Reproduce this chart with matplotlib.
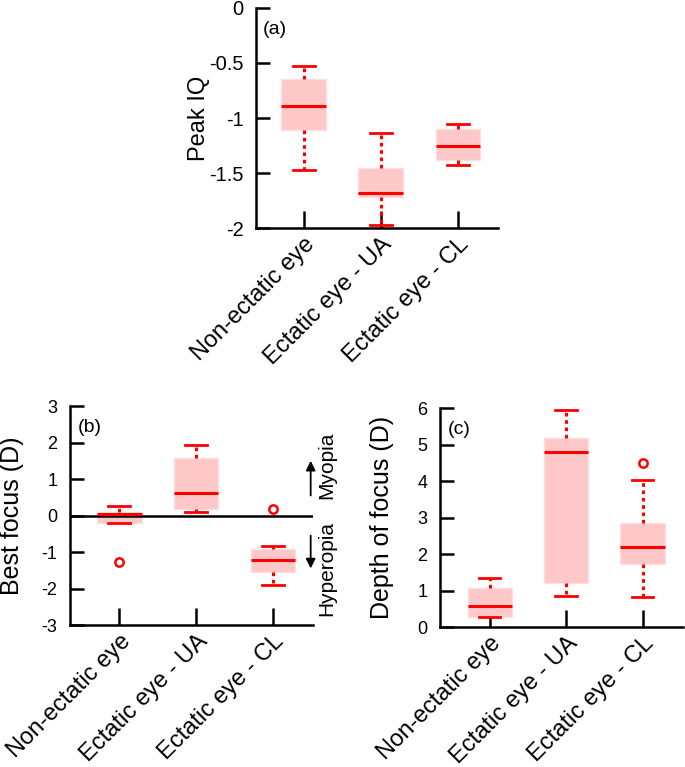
import matplotlib.pyplot as plt

plt.rcParams['font.family'] = ['Liberation Sans', 'DejaVu Sans']
plt.rcParams['axes.unicode_minus'] = False

groups = ['Non-ectatic eye', 'Ectatic eye - UA', 'Ectatic eye - CL']

# (a) peak IQ: lower whisker, Q1, median, Q3, upper whisker, outliers
peak_lo = [-1.47, -1.97, -1.43]
peak_q1 = [-1.11, -1.72, -1.38]
peak_med = [-0.89, -1.68, -1.25]
peak_q3 = [-0.65, -1.45, -1.10]
peak_hi = [-0.53, -1.14, -1.05]
peak_out = [[], [], []]

# (b) best focus (D)
focus_lo = [-0.20, 0.11, -1.89]
focus_q1 = [-0.20, 0.19, -1.56]
focus_med = [0.05, 0.63, -1.22]
focus_q3 = [0.09, 1.59, -0.91]
focus_hi = [0.26, 1.94, -0.84]
focus_out = [[-1.28], [], [0.18]]

# (c) depth of focus (D)
dof_lo = [0.27, 0.86, 0.82]
dof_q1 = [0.27, 1.21, 1.74]
dof_med = [0.57, 4.80, 2.20]
dof_q3 = [1.08, 5.17, 2.85]
dof_hi = [1.33, 5.95, 4.02]
dof_out = [[], [], [4.50]]


def make_stats(lo, q1, med, q3, hi, out):
    return [dict(whislo=a, q1=b, med=c, q3=d, whishi=e, fliers=f)
            for a, b, c, d, e, f in zip(lo, q1, med, q3, hi, out)]


def draw(ax, stats, xlim, ylim, yticks, ylabel, tag, tsize, xsize, lsize):
    ax.bxp(stats, positions=[1, 2, 3], widths=0.58, capwidths=0.28,
           patch_artist=True, showfliers=True,
           boxprops=dict(facecolor='#ffc8c8', edgecolor='#ffe0e0', linewidth=1),
           whiskerprops=dict(color='red', linestyle=(0, (1.2, 1.2)), linewidth=2.2),
           capprops=dict(color='red', linewidth=2),
           medianprops=dict(color='red', linewidth=2.2, zorder=4),
           flierprops=dict(marker='o', markerfacecolor='none',
                           markeredgecolor='red', markersize=6, markeredgewidth=1.8))
    ax.set_xlim(xlim)
    ax.set_ylim(ylim)
    ax.set_yticks(yticks)
    ax.set_xticks([1, 2, 3])
    ax.set_xticklabels(groups, rotation=45, ha='right', va='top',
                       rotation_mode='anchor', fontsize=xsize)
    ax.tick_params(axis='x', direction='in', length=12, width=1.8, pad=4)
    ax.tick_params(axis='y', direction='in', length=10, width=1.8, pad=9,
                   labelsize=tsize)
    for s in ['top', 'right']:
        ax.spines[s].set_visible(False)
    for s in ['left', 'bottom']:
        ax.spines[s].set_linewidth(1.8)
    ax.set_ylabel(ylabel, fontsize=lsize)
    ax.yaxis.set_label_coords(-0.19, 0.5)
    ax.text(0.03, 0.9, tag, transform=ax.transAxes, fontsize=14,
            ha='left', va='center')


fig = plt.figure(figsize=(6.85, 7.67), dpi=100)
ax_a = fig.add_axes([0.3737, 0.7027, 0.3533, 0.2869])
ax_b = fig.add_axes([0.1022, 0.1851, 0.3547, 0.2855])
ax_c = fig.add_axes([0.6423, 0.1825, 0.3550, 0.2855])

draw(ax_a, make_stats(peak_lo, peak_q1, peak_med, peak_q3, peak_hi, peak_out),
     (0.38, 3.52), (-2, 0), [-2, -1.5, -1, -0.5, 0], 'Peak IQ', '(a)',
     14.5, 17, 17)
ax_a.set_yticklabels(['-2', '-1.5', '-1', '-0.5', '0'])

draw(ax_b, make_stats(focus_lo, focus_q1, focus_med, focus_q3, focus_hi, focus_out),
     (0.36, 3.52), (-3, 3), [-3, -2, -1, 0, 1, 2, 3], 'Best focus (D)', '(b)',
     13, 17, 18)
ax_b.axhline(0, color='black', linewidth=1.8, zorder=2.5)
arrow = dict(arrowstyle='-|>', color='black', lw=1.3, mutation_scale=14,
             shrinkA=0, shrinkB=0)
ax_b.annotate('', xy=(3.49, 1.50), xytext=(3.49, 0.55), annotation_clip=False,
              arrowprops=arrow)
ax_b.annotate('', xy=(3.49, -1.45), xytext=(3.49, -0.55), annotation_clip=False,
              arrowprops=arrow)
ax_b.text(3.70, 1.37, 'Myopia', rotation=90, ha='center', va='center',
          fontsize=15, clip_on=False)
ax_b.text(3.70, -1.45, 'Hyperopia', rotation=90, ha='center', va='center',
          fontsize=15, clip_on=False)

draw(ax_c, make_stats(dof_lo, dof_q1, dof_med, dof_q3, dof_hi, dof_out),
     (0.35, 3.53), (0, 6), [0, 1, 2, 3, 4, 5, 6], 'Depth of focus (D)', '(c)',
     13, 17, 18)

fig.savefig('out.png', dpi=100)
